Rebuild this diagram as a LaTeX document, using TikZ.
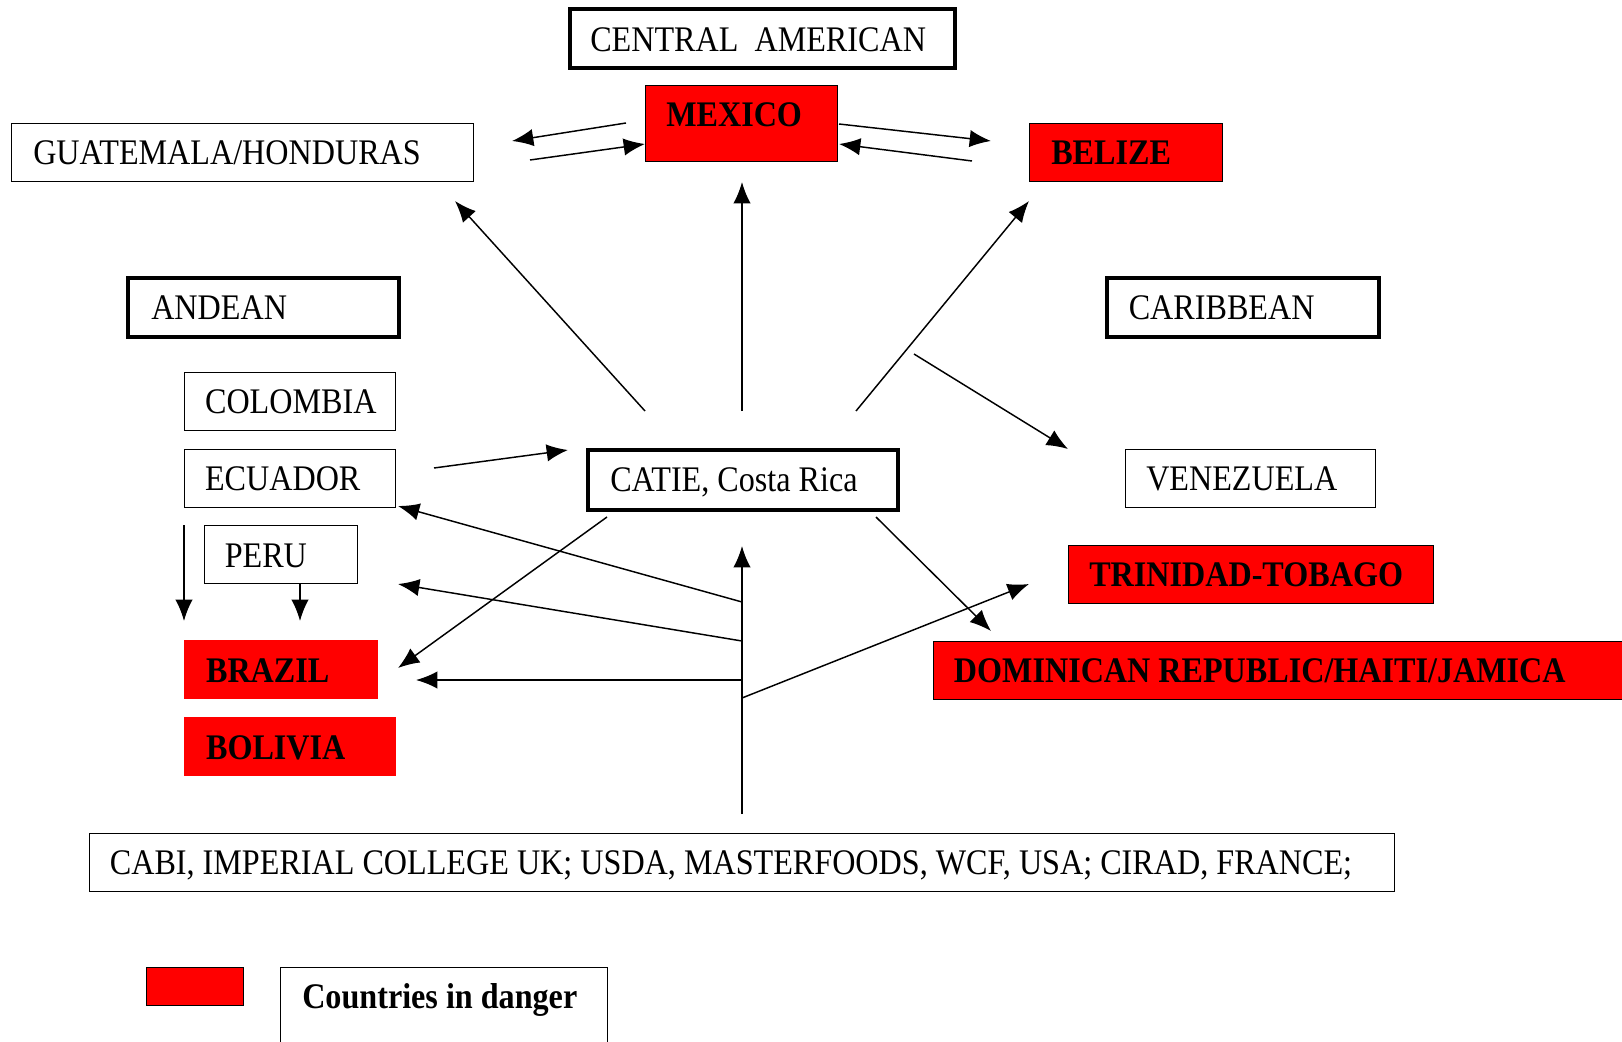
\documentclass[tikz,border=0pt]{standalone}
\usepackage{fontspec}
\setmainfont{Liberation Serif}[FakeStretch=0.893]
\usetikzlibrary{arrows.meta}
\definecolor{dangerred}{RGB}{255,0,0}
\tikzset{
  box/.style={draw=black, line width=1pt, rectangle, anchor=north west, inner sep=0pt},
  thickbox/.style={draw=black, line width=3.2pt, rectangle, anchor=north west, inner sep=0pt},
  redbox/.style={fill=dangerred, draw=black, line width=1pt, rectangle, anchor=north west, inner sep=0pt},
  rednb/.style={fill=dangerred, rectangle, anchor=north west, inner sep=0pt},
  sz/.style 2 args={minimum width={#1*0.75pt}, minimum height={#2*0.75pt}},
  lbl/.style={anchor=base west, inner sep=0pt, font=\fontsize{27pt}{30pt}\selectfont},
  blbl/.style={anchor=base west, inner sep=0pt, font=\fontsize{27pt}{30pt}\selectfont\bfseries},
  arr/.style={line width=1.1pt, -{Latex[length=16pt,width=13pt]}}
}
\begin{document}
\begin{tikzpicture}[x=0.75pt,y=-0.75pt]
\useasboundingbox (0,0) rectangle (1622,1042);
\fill[white] (0,0) rectangle (1622,1042);
% boxes
\node[thickbox, sz={385}{59}] (central) at (568,7) {};
\node[redbox, sz={192}{76}] (mexico) at (645,85) {};
\node[box, sz={462}{58}] (guat) at (11,123) {};
\node[redbox, sz={193}{58}] (belize) at (1029,123) {};
\node[thickbox, sz={271}{59}] (andean) at (126,276) {};
\node[thickbox, sz={272}{59}] (carib) at (1105,276) {};
\node[box, sz={211}{58}] (colombia) at (184,372) {};
\node[box, sz={211}{58}] (ecuador) at (184,449) {};
\node[box, sz={153}{58}] (peru) at (204,525) {};
\node[rednb, sz={194}{59}] (brazil) at (184,640) {};
\node[rednb, sz={212}{59}] (bolivia) at (184,717) {};
\node[thickbox, sz={310}{60}] (catie) at (586,448) {};
\node[box, sz={250}{58}] (venez) at (1125,449) {};
\node[redbox, sz={365}{58}] (trinidad) at (1068,545) {};
\node[redbox, sz={720}{58}] (dominican) at (933,641) {};
\node[box, sz={1305}{58}] (cabi) at (89,833) {};
\node[redbox, sz={97}{38}] (legred) at (146,967) {};
\node[box, sz={327}{120}] (legbox) at (280,967) {};
% texts
\node[lbl] (tcentral) at (590,51.7) {CENTRAL\ \ AMERICAN};
\node[blbl] (tmexico) at (666,126) {MEXICO};
\node[lbl] (tguat) at (33,164.5) {GUATEMALA/HONDURAS};
\node[blbl] (tbelize) at (1051,164.5) {BELIZE};
\node[lbl] (tandean) at (151,319.6) {ANDEAN};
\node[lbl] (tcarib) at (1128.5,319.6) {CARIBBEAN};
\node[lbl] (tcolombia) at (204.8,413.8) {COLOMBIA};
\node[lbl] (tecuador) at (204.8,490) {ECUADOR};
\node[lbl] (tperu) at (224.5,567) {PERU};
\node[lbl] (tcatie) at (610,491) {CATIE, Costa Rica};
\node[lbl] (tvenez) at (1146,490) {VENEZUELA};
\node[blbl] (ttrinidad) at (1089,586.5) {TRINIDAD-TOBAGO};
\node[blbl] (tbrazil) at (205.8,682.7) {BRAZIL};
\node[blbl] (tbolivia) at (205.8,759) {BOLIVIA};
\node[blbl] (tdominican) at (953.7,682.7) {DOMINICAN REPUBLIC/HAITI/JAMICA};
\node[lbl] (tcabi) at (109.6,874) {CABI, IMPERIAL COLLEGE UK; USDA, MASTERFOODS, WCF, USA; CIRAD, FRANCE;};
\node[blbl] (tleg) at (302,1008.5) {Countries in danger};
% connector end points
\coordinate (a1s) at (626,123); \coordinate (a1e) at (512,141);
\coordinate (a2s) at (530,160); \coordinate (a2e) at (645,144);
\coordinate (a3s) at (839,124); \coordinate (a3e) at (991,141);
\coordinate (a4s) at (972,161); \coordinate (a4e) at (839,144);
\coordinate (c1) at (645,411); \coordinate (g1) at (455,201);
\coordinate (c2) at (742,411); \coordinate (m1) at (742,182);
\coordinate (c3) at (856,411); \coordinate (b1) at (1029,201);
\coordinate (v0) at (914,354); \coordinate (v1) at (1068,449);
\coordinate (e1) at (434,468); \coordinate (ct1) at (568,450);
\coordinate (c4) at (607,517); \coordinate (br1) at (398,668);
\coordinate (c5) at (876,517); \coordinate (d1) at (991,631);
\coordinate (s0) at (742,814); \coordinate (s1) at (742,546);
\coordinate (j1) at (742,602); \coordinate (ec1) at (398,506);
\coordinate (j2) at (742,641); \coordinate (pe1) at (398,584);
\coordinate (j3) at (742,680); \coordinate (br2) at (416,680);
\coordinate (j4) at (742,698); \coordinate (tr1) at (1029,584);
\coordinate (ec2) at (184,525); \coordinate (br3) at (184,621);
\coordinate (pe2) at (300,583); \coordinate (br4) at (300,621);
% connectors
\draw[arr] (a1s) -- (a1e);
\draw[arr] (a2s) -- (a2e);
\draw[arr] (a3s) -- (a3e);
\draw[arr] (a4s) -- (a4e);
\draw[arr] (c1) -- (g1);
\draw[arr] (c2) -- (m1);
\draw[arr] (c3) -- (b1);
\draw[arr] (v0) -- (v1);
\draw[arr] (e1) -- (ct1);
\draw[arr] (c4) -- (br1);
\draw[arr] (c5) -- (d1);
\draw[arr] (s0) -- (s1);
\draw[arr] (j1) -- (ec1);
\draw[arr] (j2) -- (pe1);
\draw[arr] (j3) -- (br2);
\draw[arr] (j4) -- (tr1);
\draw[arr] (ec2) -- (br3);
\draw[arr] (pe2) -- (br4);
\end{tikzpicture}
\end{document}
